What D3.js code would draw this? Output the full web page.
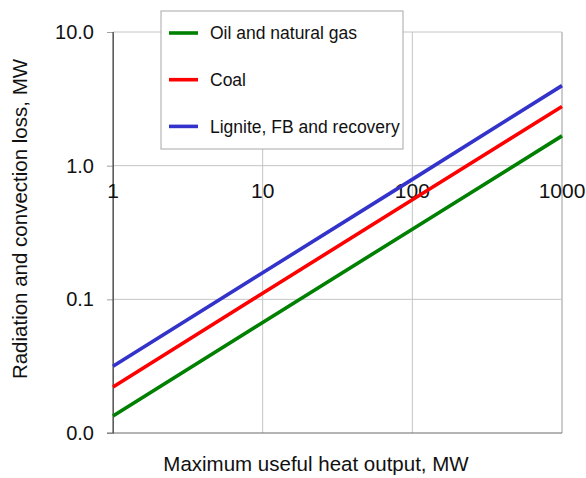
<!DOCTYPE html>
<html>
<head>
<meta charset="utf-8">
<script src="https://cdn.jsdelivr.net/npm/d3@7"></script>
<style>
  html, body { margin: 0; padding: 0; background: #fff; }
  svg { display: block; font-family: "Liberation Sans", Arial, sans-serif; }
</style>
</head>
<body>
<svg id="chart" width="586" height="478"></svg>
<script>
// Boiler heat output (MW) and radiation/convection loss (MW) per fuel type
const outputMW = [1, 10, 100, 1000];
const oilGasLoss = [0.0134, 0.067, 0.335, 1.67];
const coalLoss = [0.0221, 0.111, 0.556, 2.77];
const ligniteLoss = [0.0316, 0.158, 0.79, 3.97];

const seriesNames = ["Oil and natural gas", "Coal", "Lignite, FB and recovery"];
const seriesColors = ["#008000", "#ff0000", "#3333cc"];
const xTicks = [1, 10, 100, 1000];
const yTicks = [0.01, 0.1, 1, 10];

const series = [oilGasLoss, coalLoss, ligniteLoss].map((vals, i) => ({
  name: seriesNames[i],
  color: seriesColors[i],
  points: outputMW.map((x, j) => ({ x, y: vals[j] }))
}));

const W = 586, H = 478;
const margin = { top: 32, right: 24, bottom: 45, left: 113 };
const iw = W - margin.left - margin.right;
const ih = H - margin.top - margin.bottom;

const svg = d3.select("#chart");
const g = svg.append("g").attr("transform", `translate(${margin.left},${margin.top})`);

const x = d3.scaleLog().domain([1, 1000]).range([0, iw]);
const y = d3.scaleLog().domain([0.01, 10]).range([ih, 0]);

// grid lines
g.append("g").selectAll("line.vg").data(xTicks.slice(1)).join("line")
  .attr("x1", d => x(d)).attr("x2", d => x(d))
  .attr("y1", 0).attr("y2", ih)
  .attr("stroke", (d, i, n) => i === n.length - 1 ? "#9a9a9a" : "#c4c4c4")
  .attr("stroke-width", 1);
g.append("g").selectAll("line.hg").data(yTicks.slice(1)).join("line")
  .attr("x1", 0).attr("x2", iw)
  .attr("y1", d => y(d)).attr("y2", d => y(d))
  .attr("stroke", "#c4c4c4").attr("stroke-width", 1);

// left axis with tick labels
const yAxis = g.append("g")
  .call(d3.axisLeft(y).tickValues(yTicks).tickFormat(d3.format(".1f")).tickSize(6).tickPadding(13));
yAxis.select(".domain").attr("stroke", "#6a6a6a");
yAxis.selectAll(".tick line").attr("stroke", "#a0a0a0");
yAxis.selectAll("text").attr("font-size", 20).attr("fill", "#111")
  .attr("font-family", "'Liberation Sans', Arial, sans-serif");

// bottom axis line
g.append("line")
  .attr("x1", -6).attr("x2", iw).attr("y1", ih).attr("y2", ih)
  .attr("stroke", "#6a6a6a").attr("stroke-width", 1);
g.append("line")
  .attr("x1", 0).attr("x2", 0).attr("y1", 0).attr("y2", ih)
  .attr("stroke", "#555").attr("stroke-width", 1.2);

// x tick labels sit just below the 1.0 grid line
g.append("g").selectAll("text.xt").data(xTicks).join("text")
  .attr("x", d => x(d)).attr("y", y(1) + 32)
  .attr("text-anchor", "middle")
  .attr("font-size", 21).attr("fill", "#111")
  .text(d => d3.format("d")(d));

// data lines
const line = d3.line().x(d => x(d.x)).y(d => y(d.y));
g.append("g").selectAll("path").data(series).join("path")
  .attr("d", d => line(d.points))
  .attr("fill", "none")
  .attr("stroke", d => d.color)
  .attr("stroke-width", 3.6);

// legend
const lg = svg.append("g").attr("transform", "translate(161,11)");
lg.append("rect").attr("x", 0).attr("y", 0).attr("width", 242).attr("height", 138)
  .attr("fill", "#fff").attr("stroke", "#a8a8a8").attr("stroke-width", 1);
const items = lg.selectAll("g.item").data(series).join("g")
  .attr("transform", (d, i) => `translate(0,${22 + i * 46.7})`);
items.append("line").attr("x1", 8).attr("x2", 37).attr("y1", 0).attr("y2", 0)
  .attr("stroke", d => d.color).attr("stroke-width", 3.6);
items.append("text").attr("x", 49).attr("y", 0).attr("dy", "0.35em")
  .attr("font-size", 17.5).attr("fill", "#111").text(d => d.name);

// axis titles
svg.append("text")
  .attr("x", 316).attr("y", 471)
  .attr("text-anchor", "middle").attr("font-size", 20.5).attr("fill", "#111")
  .text("Maximum useful heat output, MW");
svg.append("text")
  .attr("transform", "translate(27,219) rotate(-90)")
  .attr("text-anchor", "middle").attr("font-size", 20.5).attr("fill", "#111")
  .text("Radiation and convection loss, MW");
</script>
</body>
</html>
